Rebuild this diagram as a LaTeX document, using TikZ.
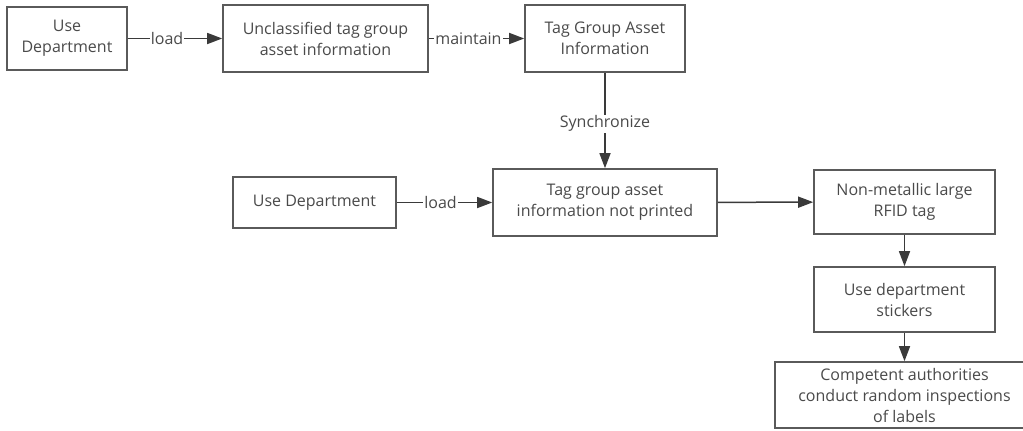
\documentclass[tikz,border=0pt]{standalone}
\usepackage{fontspec}
\setmainfont{Open Sans}
\usetikzlibrary{arrows.meta}
\definecolor{boxline}{HTML}{5A5A5A}
\definecolor{arrline}{HTML}{3A3A3A}
\definecolor{txt}{HTML}{4A4A4A}
\tikzset{
  box/.style={draw=boxline, line width=1.6pt, fill=white, align=center, text=txt,
    font=\fontsize{16}{21}\selectfont, inner sep=0pt},
  conn/.style={draw=arrline, line width=1.5pt, -{Triangle[length=15pt,width=11pt]}},
  lbl/.style={fill=white, text=txt, font=\fontsize{16}{18}\selectfont, inner sep=1pt}
}
\begin{document}
\begin{tikzpicture}[x=1pt,y=-1pt]
\useasboundingbox (0,0) rectangle (1023,431);
\clip (0,0) rectangle (1023,431);
\node[box, minimum width=120pt, minimum height=63pt] (a) at (67,38.5) {Use\\Department};
\node[box, minimum width=205pt, minimum height=67pt] (b) at (325.5,38.5) {Unclassified tag group\\asset information};
\node[box, minimum width=160pt, minimum height=67pt] (c) at (605,38.5) {Tag Group Asset\\Information};
\node[box, minimum width=163pt, minimum height=51pt] (d) at (314.5,202.5) {Use Department};
\node[box, minimum width=224pt, minimum height=67pt] (e) at (605,202.5) {Tag group asset\\information not printed};
\node[box, minimum width=181pt, minimum height=64pt] (f) at (904.5,202) {Non-metallic large\\RFID tag};
\node[box, minimum width=181pt, minimum height=65pt] (g) at (904.5,299.5) {Use department\\stickers};
\node[box, minimum width=259pt, minimum height=66pt] (h) at (904.5,395) {Competent authorities\\conduct random inspections\\of labels};
\draw[conn] (a) -- node[lbl, xshift=-8pt] {load} (b);
\draw[conn] (b) -- node[lbl, xshift=-8pt] {maintain} (c);
\draw[conn] (c) -- node[lbl, yshift=-3pt] {Synchronize} (e);
\draw[conn] (d) -- node[lbl, xshift=-4pt] {load} (e);
\draw[conn] (e) -- (f);
\draw[conn] (f) -- (g);
\draw[conn] (g) -- (h);
\end{tikzpicture}
\end{document}
